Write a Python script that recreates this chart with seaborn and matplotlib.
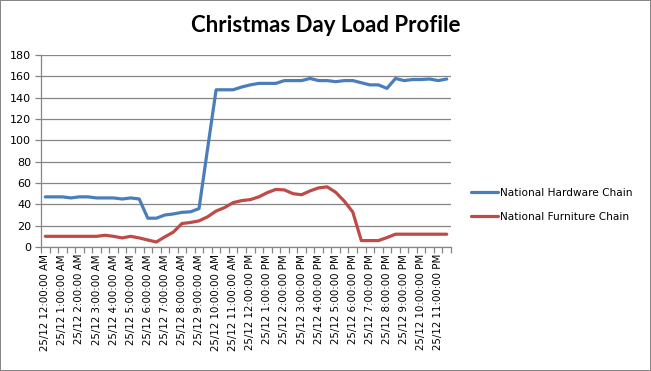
import matplotlib
matplotlib.use("Agg")
import matplotlib.pyplot as plt
import seaborn as sns
import pandas as pd

# Half-hourly readings on 25/12, 48 slots
hardware = [47, 47, 47, 46, 47, 47, 46, 46, 46, 45, 46, 45,
            27, 27, 30, 31, 32.5, 33, 36, 92, 147.4, 147.4, 147.4, 150,
            152, 153.4, 153.4, 153.4, 156, 156, 156, 158, 156, 156, 155, 156,
            156, 154, 152, 152, 148.7, 158, 156, 157, 157, 157.5, 156, 157.5]
furniture = [10, 10, 10, 10, 10, 10, 10, 11, 10, 8.5, 10, 8.5,
             6.6, 4.7, 9.5, 14, 22, 23, 24.5, 28.3, 33.7, 37, 41.6, 43.5,
             44.4, 47, 51, 54, 53.5, 50, 49, 52.6, 55.4, 56.4, 51.3, 43,
             32.8, 6, 6, 6, 8.8, 12, 12, 12, 12, 12, 12, 12]
hour_labels = ["25/12 12:00:00 AM"] + [f"25/12 {h}:00:00 AM" for h in range(1, 12)] + \
              ["25/12 12:00:00 PM"] + [f"25/12 {h}:00:00 PM" for h in range(1, 12)]
series_names = ["National Hardware Chain", "National Furniture Chain"]
colors = ["#4A7EBB", "#BE4B48"]

df = pd.DataFrame({
    "slot": list(range(len(hardware))) * 2,
    "load": hardware + furniture,
    "series": [series_names[0]] * len(hardware) + [series_names[1]] * len(furniture),
})

sns.set_style("white")
plt.rcParams["font.family"] = ["DejaVu Sans"]
plt.rcParams["text.color"] = "black"
plt.rcParams["xtick.color"] = "black"
plt.rcParams["ytick.color"] = "black"
grey = "#868686"

fig = plt.figure(figsize=(6.51, 3.71), dpi=100, edgecolor=grey, linewidth=1.2)
ax = fig.add_axes([41 / 651, 1 - 247 / 371, 410 / 651, 192 / 371])

sns.lineplot(data=df, x="slot", y="load", hue="series", palette=colors,
             linewidth=2.3, ax=ax, legend=True)

ax.set_xlim(-0.5, len(hardware) - 0.5)
ax.set_ylim(0, 180)
ax.set_yticks(range(0, 181, 20))
ax.yaxis.grid(True, color=grey, linewidth=0.9)
ax.set_axisbelow(True)
ax.set_xlabel("")
ax.set_ylabel("")

ax.set_xticks(range(0, len(hardware), 2))
ax.set_xticklabels(hour_labels, rotation=90, fontsize=7.4)
ax.set_xticks([i - 0.5 for i in range(len(hardware) + 1)], minor=True)
ax.tick_params(axis="x", which="major", bottom=True, length=0, pad=5)
ax.tick_params(axis="x", which="minor", bottom=True, length=4, color=grey, width=0.9)
ax.tick_params(axis="y", left=True, length=4, color=grey, labelcolor="black",
               width=0.9, labelsize=8, pad=3)

for side in ["top", "right"]:
    ax.spines[side].set_visible(False)
for side in ["left", "bottom"]:
    ax.spines[side].set_color(grey)
    ax.spines[side].set_linewidth(0.9)

leg = ax.legend(loc="center left", bbox_to_anchor=(1.025, 0.22), frameon=False,
                fontsize=7.6, handlelength=2.6, handletextpad=0.2, labelspacing=1.3)
for t in leg.get_texts():
    t.set_color("black")

fig.suptitle("Christmas Day Load Profile", fontweight="bold", fontsize=16,
             color="black", family=["Lato", "DejaVu Sans"], y=0.96)

fig.savefig("out.png", dpi=100, edgecolor=fig.get_edgecolor())
